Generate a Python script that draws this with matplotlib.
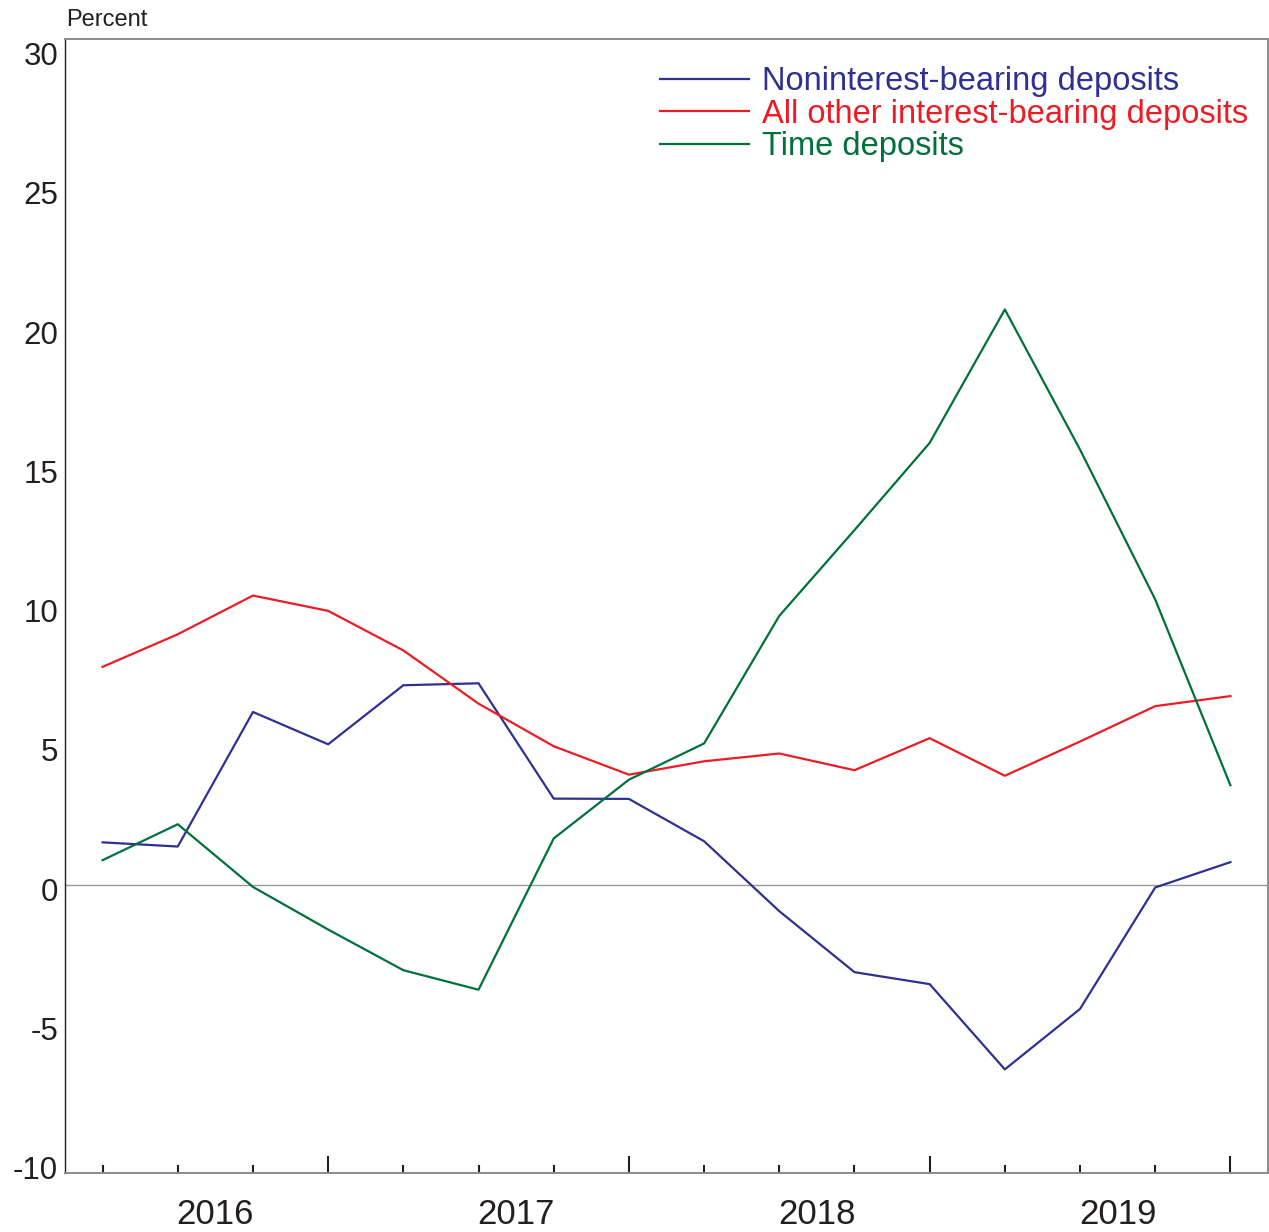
import matplotlib
matplotlib.use("Agg")
import matplotlib.pyplot as plt
import matplotlib.transforms as mtransforms

plt.rcParams['font.family'] = ['Liberation Sans', 'DejaVu Sans']

# Quarterly growth rates, 2016:Q1 - 2019:Q4
quarters = list(range(16))
years = ['2016', '2017', '2018', '2019']

noninterest = [1.54, 1.39, 6.22, 5.06, 7.18, 7.25, 3.11, 3.10,
               1.58, -0.93, -3.12, -3.55, -6.61, -4.44, -0.08, 0.83]
other_interest = [7.84, 9.01, 10.40, 9.85, 8.43, 6.52, 4.99, 3.97,
                  4.45, 4.73, 4.13, 5.28, 3.93, 5.16, 6.43, 6.79]
time_dep = [0.90, 2.19, -0.06, -1.59, -3.05, -3.75, 1.68, 3.79,
            5.09, 9.67, 12.75, 15.88, 20.67, 15.64, 10.26, 3.59]

series_names = ['Noninterest-bearing deposits',
                'All other interest-bearing deposits',
                'Time deposits']
series_colors = ['#2E3192', '#ED1C24', '#00703C']

y_ticks = [-10, -5, 0, 5, 10, 15, 20, 25, 30]

W, H = 1269, 1232
fig = plt.figure(figsize=(W / 100, H / 100), dpi=100)
ax = fig.add_axes([65 / W, 1 - 1173 / H, (1268 - 65) / W, (1173 - 39) / H])

for vals, name, col in zip([noninterest, other_interest, time_dep],
                           series_names, series_colors):
    ax.plot(quarters, vals, color=col, lw=1.6, label=name)

ax.axhline(0, color='#999999', lw=1.0, zorder=0)

ax.set_xlim(-0.5, 15.5)
ax.set_ylim(-10.33, 30.38)

# spines
for side in ['top', 'right', 'bottom']:
    ax.spines[side].set_color('#8c8c8c')
    ax.spines[side].set_linewidth(1.4)
ax.spines['left'].set_color('#231F20')
ax.spines['left'].set_linewidth(1.0)

# x ticks: long at year end, short for other quarters
ax.set_xticks([3, 7, 11, 15])
ax.set_xticks([q for q in quarters if q % 4 != 3], minor=True)
ax.tick_params(axis='x', which='major', direction='in', length=12.5,
               width=1.5, color='#231F20', labelbottom=False)
ax.tick_params(axis='x', which='minor', direction='in', length=6,
               width=1.5, color='#231F20')
for i, yr in enumerate(years):
    ax.text(4 * i + 1.5, -0.037, yr, transform=ax.get_xaxis_transform(),
            ha='center', va='center', fontsize=25, color='#231F20')

# y ticks, labels only
ax.set_yticks(y_ticks)
ax.set_yticklabels([str(v) for v in y_ticks])
ax.tick_params(axis='y', length=0, pad=5, labelsize=22.5, labelcolor='#231F20')
shift = mtransforms.ScaledTranslation(0, -4 / 100, fig.dpi_scale_trans)
for lbl in ax.get_yticklabels():
    lbl.set_transform(lbl.get_transform() + shift)

fig.text(66 / W, 1 - 20 / H, 'Percent', ha='left', va='center',
         fontsize=17, color='#231F20')

leg = ax.legend(loc='upper left', bbox_to_anchor=(660 / W, 1 - 66 / H),
                bbox_transform=fig.transFigure, frameon=False,
                fontsize=23.5, handlelength=2.73, handletextpad=0.4,
                labelspacing=0.05, borderpad=0, borderaxespad=0,
                labelcolor='linecolor')
for line in leg.get_lines():
    line.set_linewidth(1.6)

fig.savefig('out.png', dpi=100)
